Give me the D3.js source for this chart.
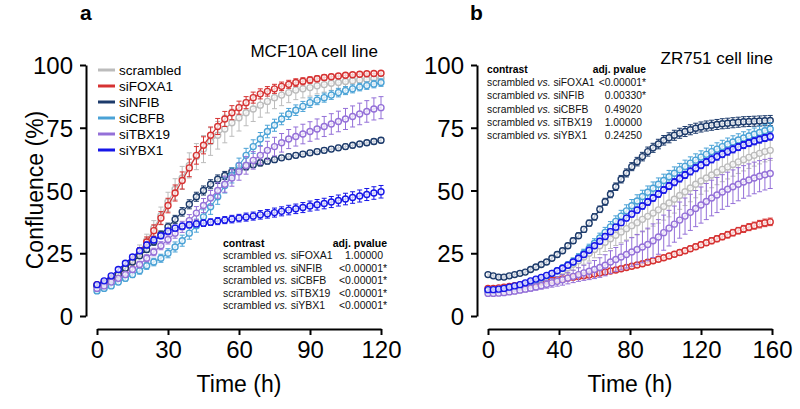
<!DOCTYPE html>
<html><head><meta charset="utf-8">
<script src="https://cdn.jsdelivr.net/npm/d3@7/dist/d3.min.js"></script>
<style>
html,body{margin:0;padding:0;background:#fff;}
svg{display:block;font-family:"Liberation Sans",Arial,sans-serif;}
</style></head>
<body><svg id="chart" width="800" height="409"></svg>
<script>
// ---------- DATA ----------
const seriesNames = ["scrambled","siFOXA1","siNFIB","siCBFB","siTBX19","siYBX1"];
const seriesColors = ["#bcbcbc","#d63232","#1d3b6b","#4aa2d6","#9470d8","#1616e8"];

const yTicks = [0,25,50,75,100];
const xTicksA = [0,30,60,90,120];
const xTicksB = [0,40,80,120,160];

// Panel a: MCF10A
const timesA = [0,3,6,9,12,15,18,21,24,27,30,33,36,39,42,45,48,51,54,57,60,63,66,69,72,75,78,81,84,87,90,93,96,99,102,105,108,111,114,117,120];
const aScrambled = [12,13,14.5,16.5,19,22.5,26,30,35,40,45.5,50.5,55,60,63.5,66.5,69.5,72,74.5,77,79,81,82.5,84,85.5,87,88,89,90,90.5,91,91.7,92.2,92.7,93,93.4,93.7,94,94.2,94.5,94.7];
const aFOXA1 = [12.5,13.5,15,16.5,19,22,25.5,29.5,34,39,44,49,54,59,64,68,72,75.5,78.5,81,83,85,87,88.5,89.5,90.5,91.5,92.3,93,93.5,94,94.5,95,95.3,95.6,95.9,96.1,96.3,96.5,96.6,96.7];
const aNFIB = [12,13,14.5,16.5,19,21.5,24,26.5,29.5,32.5,35.5,38.5,41.5,44.5,47.5,50,52.5,54.5,56,57.5,58.5,59.5,60.3,61,61.7,62.3,63,63.5,64,64.5,65,65.5,66,66.5,67,67.5,68,68.5,69,69.5,70];
const aCBFB = [10,11,12,13.5,15,16.5,18,20,21.5,23,25,27.5,30,33,36,39.5,43.5,47.5,52,56,60,64,67.5,70.5,73.5,76,78.5,80.5,82,83.5,85,86,87,88,89,89.8,90.5,91.2,91.8,92.4,93];
const aTBX19 = [11,12,13.5,15,16.5,18.5,20.5,23,25.5,28,30.5,33,35.5,38,41,44,47,50,52.5,55,57.5,60,62,64,66,67.5,69,70.5,71.5,72.5,73.5,74.5,75.5,76.5,77.5,78.5,79.5,80.5,81.5,82.5,83];
const aYBX1 = [12.5,14,16,18.5,21,23.5,26,28.3,30.3,32,33.8,35,35.8,36.3,36.7,37,37.4,37.8,38.2,38.6,39,39.4,39.8,40.3,40.7,41.2,41.7,42.2,42.7,43.2,43.8,44.3,44.8,45.4,46,46.6,47.2,47.8,48.4,49,49.5];

const aErrScrambled = [1,1,1.2,1.5,1.8,2,2.3,2.6,3,3.4,3.8,4.2,4.6,5,5.2,5.4,5.5,5.5,5.5,5.4,5.3,5.2,5,4.8,4.6,4.4,4.2,4,3.8,3.6,3.4,3.2,3,2.8,2.6,2.5,2.4,2.3,2.2,2.1,2];
const aErrFOXA1 = [0.8,0.8,1,1.2,1.4,1.6,1.8,2,2.3,2.6,2.9,3.2,3.4,3.5,3.5,3.4,3.3,3.2,3,2.8,2.6,2.4,2.2,2,1.9,1.8,1.7,1.6,1.5,1.4,1.3,1.2,1.1,1,1,0.9,0.9,0.9,0.8,0.8,0.8];
const aErrNFIB = [0.6,0.6,0.7,0.8,0.9,1,1.1,1.2,1.3,1.4,1.5,1.6,1.7,1.8,1.8,1.8,1.8,1.7,1.6,1.5,1.4,1.3,1.2,1.2,1.1,1.1,1,1,1,1,1,1,1,1,1,1,1,1,1,1,1];
const aErrCBFB = [0.8,0.8,0.9,1,1.1,1.2,1.3,1.4,1.5,1.6,1.8,2,2.2,2.4,2.6,2.8,3,3,3,3,2.9,2.8,2.7,2.6,2.5,2.4,2.3,2.2,2.1,2,1.9,1.8,1.8,1.7,1.7,1.6,1.6,1.5,1.5,1.5,1.5];
const aErrTBX19 = [0.8,0.8,0.9,1,1.1,1.2,1.3,1.4,1.5,1.6,1.8,2,2.2,2.4,2.6,2.8,3,3.1,3.2,3.3,3.4,3.5,3.5,3.6,3.6,3.7,3.7,3.8,3.8,3.9,3.9,4,4,4.1,4.1,4.2,4.2,4.3,4.3,4.4,4.4];
const aErrYBX1 = [0.6,0.6,0.7,0.8,0.9,1,1.1,1.2,1.2,1.2,1.2,1.2,1.2,1.2,1.2,1.3,1.3,1.4,1.4,1.5,1.5,1.6,1.6,1.7,1.7,1.8,1.8,1.9,1.9,2,2,2.1,2.1,2.2,2.2,2.3,2.3,2.4,2.4,2.5,2.5];

// Panel b: ZR751
const timesB = [0,3,6,9,12,15,18,21,24,27,30,33,36,39,42,45,48,51,54,57,60,63,66,69,72,75,78,81,84,87,90,93,96,99,102,105,108,111,114,117,120,123,126,129,132,135,138,141,144,147,150,153,156,159];
const bScrambled = [10,10,10.2,10.5,10.8,11.2,11.6,12.1,12.7,13.3,14,14.8,15.7,16.7,17.8,19.2,20.6,22,23.5,25,26.5,28,29.4,30.8,32.2,33.5,34.8,36,37.2,38.5,39.7,41,42.3,43.6,45,46.5,48,49.5,51,52.5,53.8,55,56.2,57.3,58.4,59.4,60.4,61.4,62.3,63.2,64,64.8,65.5,66];
const bFOXA1 = [11,11,11.2,11.5,11.8,12.1,12.4,12.7,13,13.3,13.6,13.9,14.2,14.5,14.8,15.1,15.4,15.7,16,16.3,16.7,17.1,17.5,17.9,18.3,18.8,19.3,19.8,20.3,20.8,21.4,22,22.6,23.2,23.9,24.6,25.3,26,26.8,27.6,28.4,29.2,30,30.8,31.6,32.4,33.2,34,34.7,35.4,36,36.6,37.1,37.5];
const bNFIB = [16.5,16,15.5,15.5,16,16.5,17,17.5,18.5,19.5,20.5,21.5,23,24.5,26,28,30,32,34.5,37,39.5,42.5,45.5,48.5,51.5,54.5,57,59.5,61.5,63.5,65.5,67,68.5,70,71,72,72.8,73.5,74.2,74.8,75.3,75.7,76,76.3,76.6,76.8,77,77.2,77.4,77.5,77.6,77.7,77.8,77.9];
const bCBFB = [10,10,10.2,10.5,11,11.5,12,12.7,13.5,14.3,15.1,16,17,18,19.1,20.3,21.7,23.3,25,26.9,29,31.1,33.3,35.5,37.7,39.8,41.9,43.9,45.8,47.6,49.3,50.9,52.5,54,55.5,56.9,58.3,59.6,60.9,62.1,63.3,64.4,65.5,66.5,67.5,68.4,69.3,70.1,70.9,71.7,72.4,73.1,73.8,74.5];
const bTBX19 = [9,9,9.1,9.3,9.6,9.9,10.3,10.7,11.1,11.6,12.1,12.6,13.2,13.8,14.4,15.1,15.8,16.5,17.2,17.8,18.5,19.3,20.2,21.5,22.5,23.5,24.5,25.5,26.5,27.5,28.5,30,31.5,33.2,35,36.6,38.2,39.8,41.3,42.8,44.2,45.6,47,48.2,49.4,50.5,51.5,52.5,53.4,54.2,55,55.7,56.3,56.8];
const bYBX1 = [10.5,10.5,10.7,11,11.5,12,12.5,13.2,14,14.7,15.4,16.2,17,18,19,20.2,21.5,23,24.5,26.2,28,29.8,31.7,33.6,35.4,37.2,39,40.6,42.2,43.8,45.4,47,48.6,50.2,51.8,53.3,54.8,56.2,57.6,58.9,60.1,61.3,62.4,63.5,64.5,65.5,66.4,67.3,68.1,68.9,69.6,70.3,70.9,71.5];

const bErrScrambled = [0.8,0.8,0.8,0.9,0.9,1,1,1.1,1.2,1.3,1.4,1.5,1.7,1.9,2.1,2.3,2.5,2.7,2.9,3.1,3.3,3.5,3.7,3.9,4.1,4.3,4.5,4.7,4.9,5,5.1,5.2,5.3,5.4,5.5,5.5,5.5,5.5,5.5,5.4,5.3,5.2,5.1,5,4.9,4.8,4.7,4.6,4.5,4.4,4.3,4.2,4.1,4];
const bErrFOXA1 = [0.7,0.7,0.7,0.7,0.7,0.7,0.7,0.7,0.7,0.7,0.7,0.7,0.7,0.7,0.7,0.7,0.7,0.7,0.7,0.7,0.7,0.7,0.8,0.8,0.8,0.8,0.8,0.8,0.9,0.9,0.9,0.9,0.9,1,1,1,1,1,1.1,1.1,1.1,1.1,1.2,1.2,1.2,1.3,1.3,1.3,1.4,1.4,1.4,1.5,1.5,1.5];
const bErrNFIB = [0.8,0.8,0.8,0.8,0.8,0.8,0.8,0.8,0.8,0.8,0.8,0.9,0.9,1,1,1,1.1,1.1,1.2,1.2,1.3,1.3,1.4,1.4,1.5,1.5,1.6,1.6,1.7,1.7,1.8,1.8,1.9,1.9,2,2,2,2,2,2,2,2,2,2,2,2,2,2,2,2,2,2,2,2];
const bErrCBFB = [0.6,0.6,0.6,0.6,0.7,0.7,0.7,0.8,0.8,0.9,0.9,1,1,1.1,1.2,1.3,1.4,1.5,1.6,1.7,1.8,1.9,2,2.1,2.2,2.3,2.4,2.5,2.5,2.5,2.5,2.5,2.5,2.5,2.5,2.5,2.5,2.5,2.5,2.5,2.5,2.5,2.5,2.5,2.5,2.5,2.5,2.5,2.5,2.5,2.5,2.5,2.5,2.5];
const bErrTBX19 = [0.8,0.8,0.8,0.9,0.9,1,1,1.1,1.2,1.3,1.4,1.5,1.7,1.9,2.1,2.3,2.5,2.7,3,3.3,3.6,3.9,4.2,4.5,4.8,5.1,5.4,5.7,6,6.3,6.5,6.7,6.9,7,7.1,7.2,7.2,7.2,7.2,7.2,7.2,7.2,7.1,7,6.9,6.8,6.7,6.6,6.5,6.4,6.3,6.2,6.1,6];
const bErrYBX1 = [0.6,0.6,0.6,0.6,0.6,0.6,0.6,0.6,0.6,0.6,0.6,0.6,0.7,0.7,0.7,0.8,0.8,0.8,0.9,0.9,0.9,1,1,1,1.1,1.1,1.1,1.2,1.2,1.2,1.3,1.3,1.3,1.3,1.4,1.4,1.4,1.4,1.4,1.4,1.4,1.4,1.4,1.4,1.4,1.4,1.4,1.4,1.4,1.4,1.4,1.4,1.4,1.4];

// Statistics tables
const contrastLabels = ["siFOXA1","siNFIB","siCBFB","siTBX19","siYBX1"];
const pvaluesA = ["1.00000","<0.00001","<0.00001","<0.00001","<0.00001"];
const sigA = [false,true,true,true,true];
const pvaluesB = ["<0.00001","0.00330","0.49020","1.00000","0.24250"];
const sigB = [true,true,false,false,false];

// ---------- DRAW ----------
const svg = d3.select("#chart");
const y = d3.scaleLinear().domain([0,100]).range([316,65]);

function drawPanel(opts){
  const {x, xTicks, yAxisX, times, vals, errs, letter, letterX, title, titleX, titleY} = opts;
  const g = svg.append("g");
  const ya = g.append("g").attr("transform",`translate(${yAxisX},0)`)
    .call(d3.axisLeft(y).tickValues(yTicks).tickSize(6).tickSizeOuter(0).tickPadding(7));
  const xa = g.append("g").attr("transform","translate(0,329)")
    .call(d3.axisBottom(x).tickValues(xTicks).tickSize(6).tickSizeOuter(0).tickPadding(5));
  [ya,xa].forEach(a=>{
    a.select(".domain").attr("stroke","#000").attr("stroke-width",2);
    a.selectAll(".tick line").attr("stroke","#000").attr("stroke-width",2);
    a.selectAll(".tick text").attr("fill","#000").attr("font-size",24)
      .attr("font-family","'Liberation Sans',Arial,sans-serif");
  });
  ya.selectAll(".tick text").attr("dy","0.36em");
  xa.selectAll(".tick text").attr("dy","0.76em");
  g.append("text").attr("x",(x.range()[0]+x.range()[1])/2).attr("y",392)
    .attr("text-anchor","middle").attr("font-size",23).text("Time (h)");
  g.append("text").attr("x",letterX).attr("y",20).attr("font-size",21)
    .attr("font-weight","bold").text(letter);
  g.append("text").attr("x",titleX).attr("y",titleY).attr("text-anchor","end")
    .attr("font-size",17).text(title);

  const line = d3.line().x(d=>x(d.t)).y(d=>y(d.v));
  seriesNames.forEach((name,i)=>{
    const data = times.map((t,k)=>({t, v: vals[i][k], e: errs[i][k]}));
    const sg = g.append("g").attr("stroke",seriesColors[i]);
    const eb = sg.selectAll("g.eb").data(data).enter().append("g");
    eb.append("line").attr("x1",d=>x(d.t)).attr("x2",d=>x(d.t))
      .attr("y1",d=>y(d.v+d.e)).attr("y2",d=>y(d.v-d.e)).attr("stroke-width",1);
    eb.append("line").attr("x1",d=>x(d.t)-2.5).attr("x2",d=>x(d.t)+2.5)
      .attr("y1",d=>y(d.v+d.e)).attr("y2",d=>y(d.v+d.e)).attr("stroke-width",1);
    eb.append("line").attr("x1",d=>x(d.t)-2.5).attr("x2",d=>x(d.t)+2.5)
      .attr("y1",d=>y(d.v-d.e)).attr("y2",d=>y(d.v-d.e)).attr("stroke-width",1);
    sg.append("path").attr("d",line(data)).attr("fill","none").attr("stroke-width",1.2);
    sg.selectAll("circle").data(data).enter().append("circle")
      .attr("cx",d=>x(d.t)).attr("cy",d=>y(d.v)).attr("r",3)
      .attr("fill","#fff").attr("fill-opacity",0.75).attr("stroke-width",1.4);
  });
  return g;
}

const xA = d3.scaleLinear().domain([0,120]).range([97,381]);
const xB = d3.scaleLinear().domain([0,160]).range([488,772]);

drawPanel({x:xA, xTicks:xTicksA, yAxisX:86, times:timesA,
  vals:[aScrambled,aFOXA1,aNFIB,aCBFB,aTBX19,aYBX1],
  errs:[aErrScrambled,aErrFOXA1,aErrNFIB,aErrCBFB,aErrTBX19,aErrYBX1],
  letter:"a", letterX:80, title:"MCF10A cell line", titleX:378, titleY:57});
drawPanel({x:xB, xTicks:xTicksB, yAxisX:477, times:timesB,
  vals:[bScrambled,bFOXA1,bNFIB,bCBFB,bTBX19,bYBX1],
  errs:[bErrScrambled,bErrFOXA1,bErrNFIB,bErrCBFB,bErrTBX19,bErrYBX1],
  letter:"b", letterX:470, title:"ZR751 cell line", titleX:773, titleY:64});

svg.append("text").attr("transform","translate(43,190) rotate(-90)")
  .attr("text-anchor","middle").attr("font-size",23).text("Confluence (%)");

const leg = svg.append("g");
seriesNames.forEach((name,i)=>{
  const yy = 75 + i*16;
  leg.append("line").attr("x1",98).attr("x2",115).attr("y1",yy-5).attr("y2",yy-5)
    .attr("stroke",seriesColors[i]).attr("stroke-width",3);
  leg.append("text").attr("x",119).attr("y",yy).attr("font-size",13.5).text(name);
});

function drawTable(x0, xVal, y0, dy, fs, pvals, sig){
  const t = svg.append("g").attr("font-size",fs);
  t.append("text").attr("x",x0).attr("y",y0).attr("font-weight","bold").text("contrast");
  t.append("text").attr("x",xVal+4).attr("y",y0).attr("font-weight","bold")
    .attr("text-anchor","end").text("adj. pvalue");
  contrastLabels.forEach((c,i)=>{
    const yy = y0 + dy*(i+1);
    const tx = t.append("text").attr("x",x0).attr("y",yy).attr("fill","#111");
    tx.append("tspan").text("scrambled ");
    tx.append("tspan").attr("font-style","italic").text("vs.");
    tx.append("tspan").text(" " + c);
    t.append("text").attr("x",xVal).attr("y",yy).attr("text-anchor","end").attr("fill","#111").text(pvals[i]);
    if(sig[i]) t.append("text").attr("x",xVal).attr("y",yy).attr("fill","#111").text("*");
  });
}
drawTable(223, 383, 247, 12.4, 10.5, pvaluesA, sigA);
drawTable(487, 642, 73, 13.2, 10.3, pvaluesB, sigB);
</script>
</body></html>
